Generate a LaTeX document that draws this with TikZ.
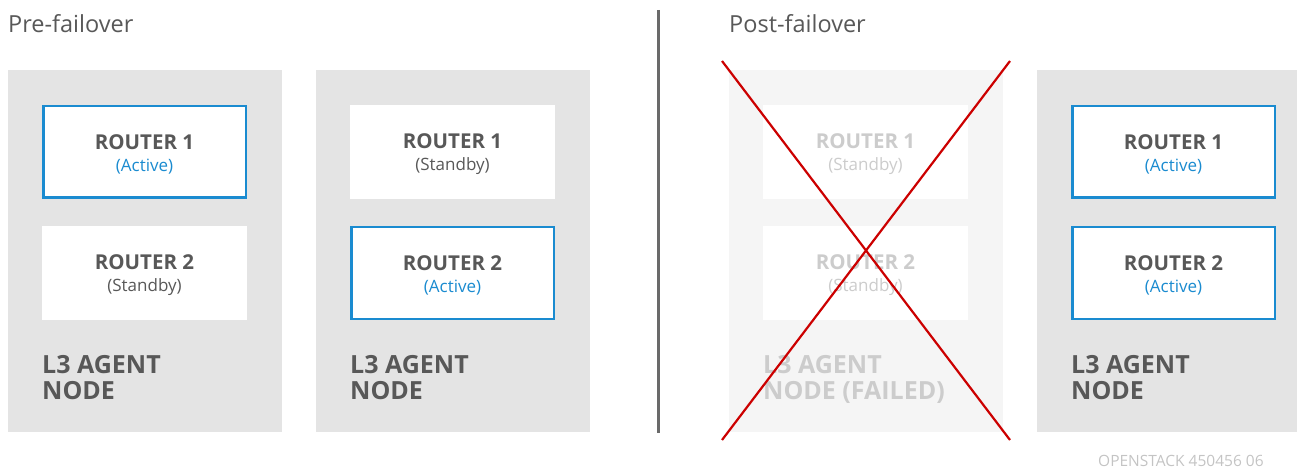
\documentclass[tikz,border=0pt]{standalone}
\usepackage{fontspec}
\setmainfont{Open Sans}
\definecolor{panelgray}{HTML}{E4E4E4}
\definecolor{failgray}{HTML}{F5F5F5}
\definecolor{txtgray}{HTML}{585858}
\definecolor{failtxt}{HTML}{CCCCCC}
\definecolor{actblue}{HTML}{1A8BD0}
\definecolor{xred}{HTML}{CC0000}
\definecolor{divgray}{HTML}{6A6A6A}
\definecolor{foot}{HTML}{C4C4C4}
\tikzset{
  panel/.style={fill=panelgray, draw=none, minimum width=274pt, minimum height=362pt, anchor=north west, inner sep=0pt},
  failpanel/.style={panel, fill=failgray},
  router/.style={fill=white, draw=none, minimum width=205pt, minimum height=94pt, inner sep=0pt},
  active/.style={router, draw=actblue, line width=2.5pt, minimum width=202.5pt, minimum height=91.5pt},
  rlabel/.style={align=center, text=txtgray, inner sep=0pt, yshift=-2pt, font=\fontsize{20.5}{23}\selectfont\bfseries},
  flabel/.style={rlabel, text=failtxt},
  agent/.style={anchor=north west, align=left, text=txtgray, inner sep=0pt, font=\fontsize{25}{26}\selectfont\bfseries},
  title/.style={anchor=base west, inner sep=0pt, text=txtgray, font=\fontsize{23.5}{26}\selectfont},
}
\newcommand{\rt}[3]{#1\\[-1pt]{\fontsize{17}{19}\selectfont\mdseries\color{#3}(#2)}}
\begin{document}
\begin{tikzpicture}[x=1pt,y=-1pt]
\useasboundingbox (0,0) rectangle (1297,470);
% titles
\node[title] (t1) at (8,33) {Pre-failover};
\node[title] (t2) at (729,33) {Post-failover};
% panels
\node[panel] (p1) at (8,70) {};
\node[panel] (p2) at (316,70) {};
\node[failpanel] (p3) at (729,70) {};
\node[panel] (p4) at (1037,70) {};
% divider
\coordinate (d1) at (658,10);
\coordinate (d2) at (658,433);
\draw[divgray, line width=3pt] (d1) -- (d2);
% router boxes
\node[active] (r11) at (144.5,152) {};
\node[router] (r12) at (144.5,273) {};
\node[router] (r21) at (452.5,152) {};
\node[active] (r22) at (452.5,273) {};
\node[router] (r31) at (865.5,152) {};
\node[router] (r32) at (865.5,273) {};
\node[active] (r41) at (1173.5,152) {};
\node[active] (r42) at (1173.5,273) {};
% router labels
\node[rlabel] (l11) at (r11) {\rt{ROUTER 1}{Active}{actblue}};
\node[rlabel] (l12) at (r12) {\rt{ROUTER 2}{Standby}{txtgray}};
\node[rlabel] (l21) at (r21) {\rt{ROUTER 1}{Standby}{txtgray}};
\node[rlabel] (l22) at (r22) {\rt{ROUTER 2}{Active}{actblue}};
\node[flabel] (l31) at (r31) {\rt{ROUTER 1}{Standby}{failtxt}};
\node[flabel] (l32) at (r32) {\rt{ROUTER 2}{Standby}{failtxt}};
\node[rlabel] (l41) at (r41) {\rt{ROUTER 1}{Active}{actblue}};
\node[rlabel] (l42) at (r42) {\rt{ROUTER 2}{Active}{actblue}};
% agent labels
\node[agent] (a1) at (42,355) {L3 AGENT\\NODE};
\node[agent] (a2) at (350,355) {L3 AGENT\\NODE};
\node[agent, text=failtxt] (a3) at (763,355) {L3 AGENT\\NODE (FAILED)};
\node[agent] (a4) at (1071,355) {L3 AGENT\\NODE};
% red X
\coordinate (x1) at (722,61);
\coordinate (x2) at (1010,440);
\coordinate (x3) at (1010,61);
\coordinate (x4) at (722,440);
\draw[xred, line width=2.2pt] (x1) -- (x2);
\draw[xred, line width=2.2pt] (x3) -- (x4);
% footer
\node[anchor=base west, inner sep=0pt, text=foot, font=\fontsize{15.5}{18}\selectfont] (ft) at (1098,466) {OPENSTACK 450456 06};
\end{tikzpicture}
\end{document}
